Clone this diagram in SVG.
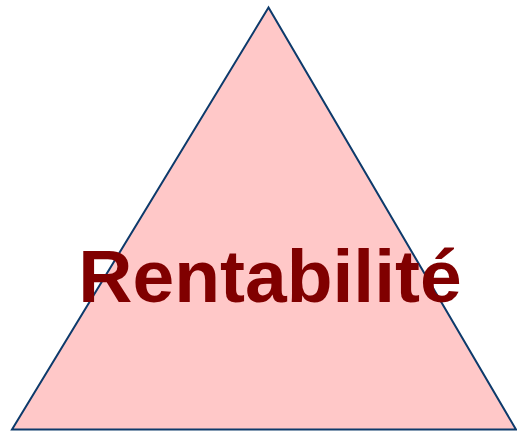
<svg xmlns="http://www.w3.org/2000/svg" width="517" height="431" viewBox="0 0 517 431">
<style>
.tri{fill:#FFC8C8;stroke:#0D3A6B;stroke-width:2;stroke-linejoin:miter}
.lbl{font-family:"Liberation Sans",Arial,sans-serif;font-weight:bold;font-size:75px;fill:#800000}
</style>
<rect width="517" height="431" fill="#FFFFFF"/>
<g id="triangle">
<polygon class="tri" points="268.5,7.5 12,429.5 516,429.5"/>
</g>
<g id="connectors"/>
<g id="label">
<text class="lbl" x="270" y="302" text-anchor="middle">Rentabilité</text>
</g>
</svg>
